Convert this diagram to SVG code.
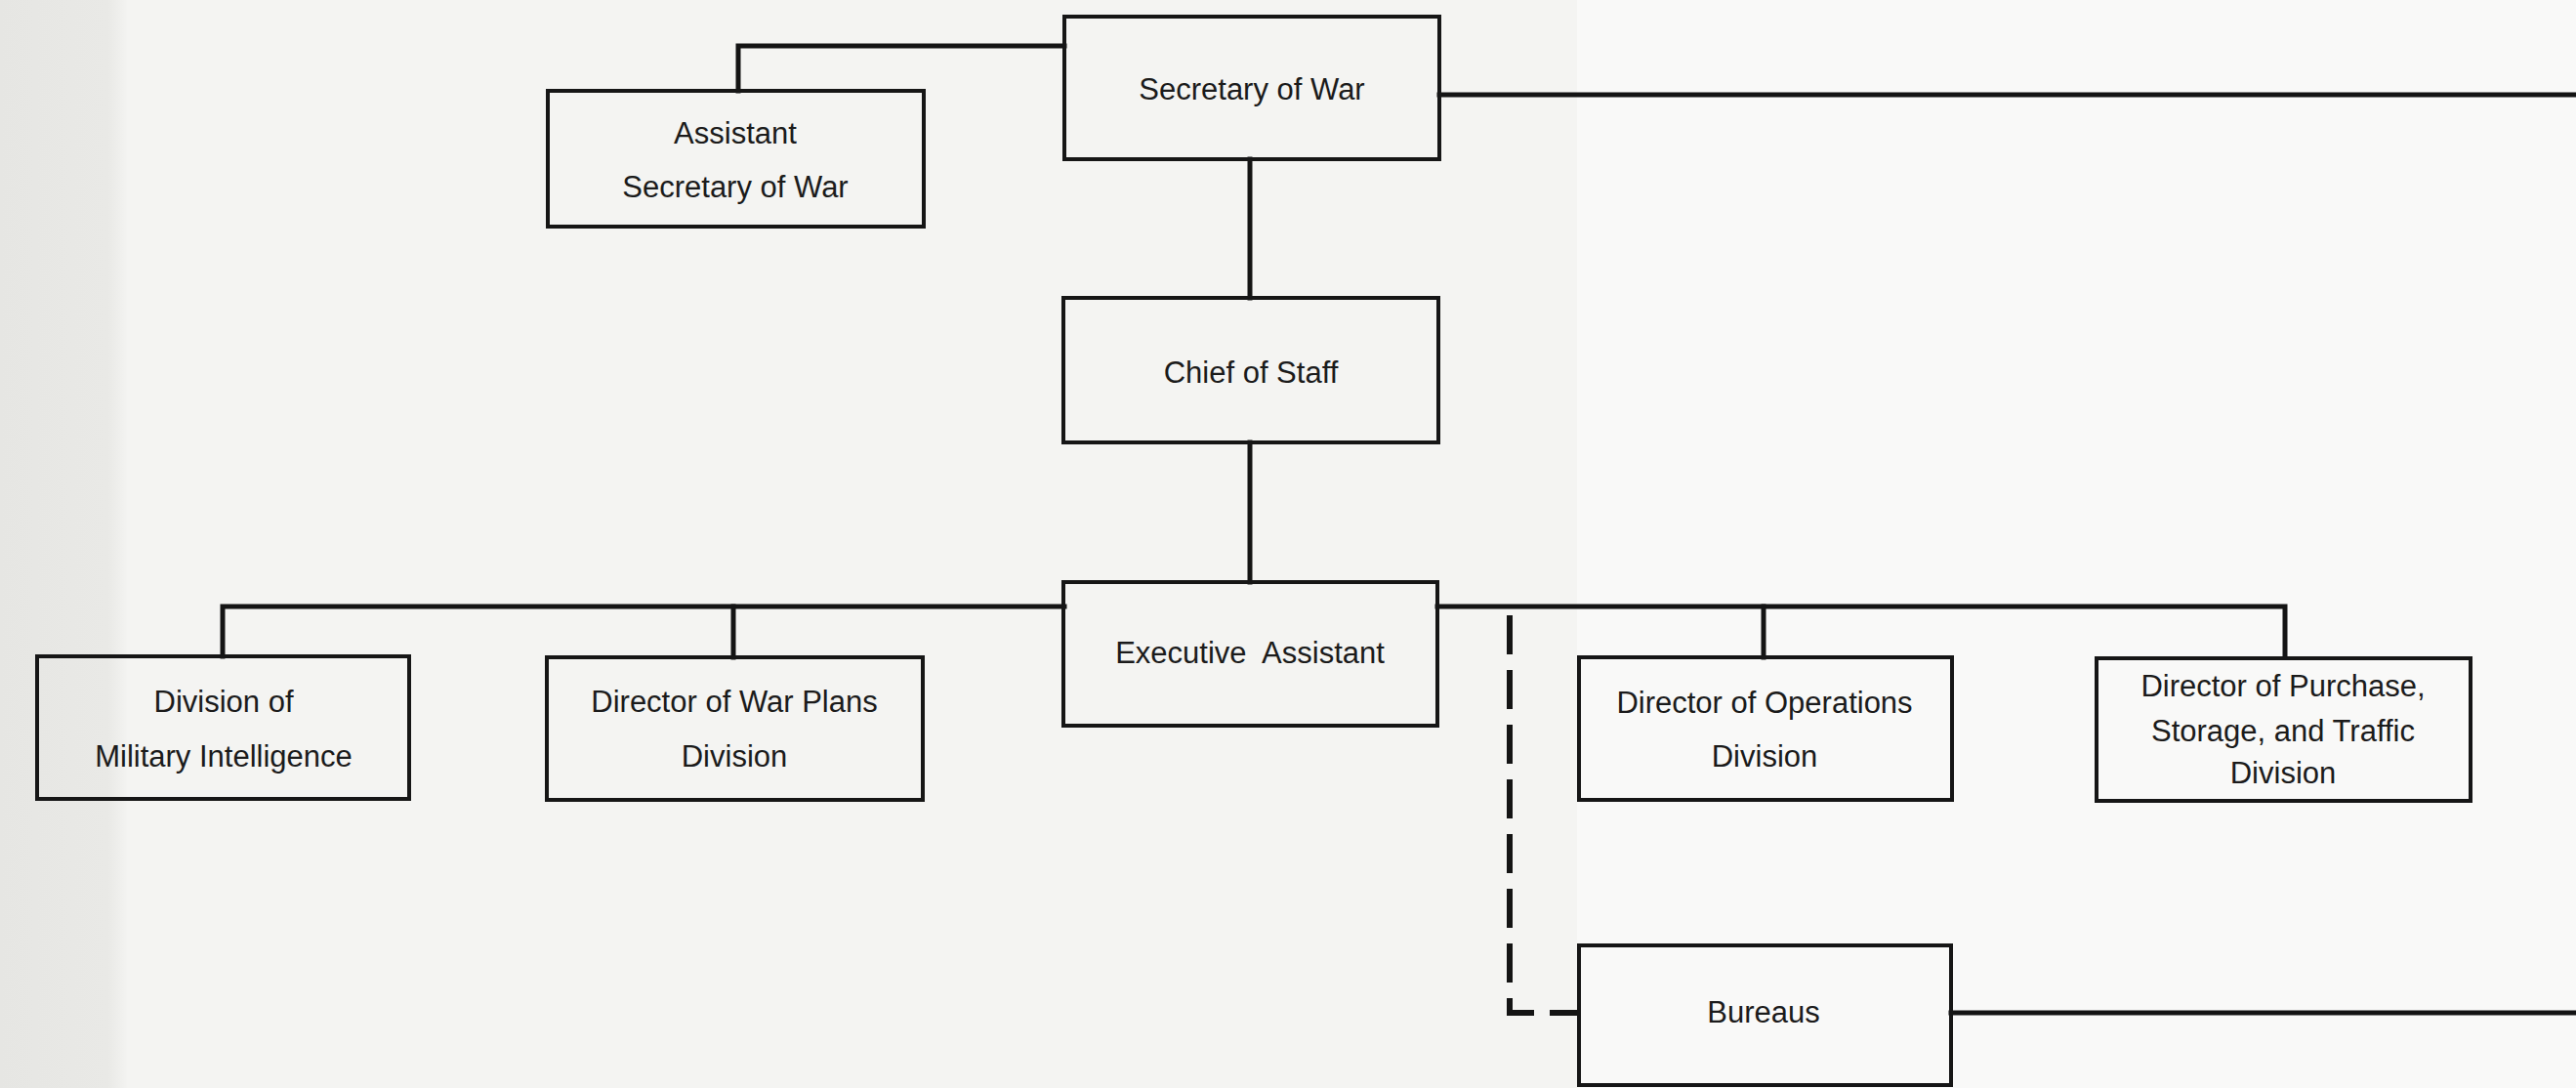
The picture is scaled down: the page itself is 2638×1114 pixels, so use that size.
<svg xmlns="http://www.w3.org/2000/svg" width="2638" height="1114" viewBox="0 0 2638 1114">
  <defs>
    <linearGradient id="leftShade" x1="0" y1="0" x2="1" y2="0">
      <stop offset="0" stop-color="#e6e6e3"/>
      <stop offset="0.85" stop-color="#e9e9e6"/>
      <stop offset="1" stop-color="#f3f3f1"/>
    </linearGradient>
    <style>
      .box { fill: none; stroke: #161616; stroke-width: 4; }
      .lbl { font-family: "Liberation Sans", Arial, Helvetica, sans-serif; font-size: 31px; fill: #1b1b1b; text-anchor: middle; }
      .line { fill: none; stroke: #141414; stroke-width: 5; stroke-linecap: square; }
      .dash { fill: none; stroke: #141414; stroke-width: 6; stroke-dasharray: 40 16; }
    </style>
  </defs>

  <!-- paper -->
  <rect x="0" y="0" width="2638" height="1114" fill="#f4f4f2"/>
  <rect x="0" y="0" width="130" height="1114" fill="url(#leftShade)"/>
  <rect x="1615" y="0" width="1023" height="1114" fill="#f9f9f8"/>

  <!-- connectors -->
  <g id="connectors">
    <path class="line" d="M756,93 V47 H1090"/>
    <path class="line" d="M1474,97 H2640"/>
    <path class="line" d="M1280,163 V305"/>
    <path class="line" d="M1280,453 V596"/>
    <path class="line" d="M1090,621 H228 V672"/>
    <path class="line" d="M751,621 V673"/>
    <path class="line" d="M1472,621 H2340 V673"/>
    <path class="line" d="M1806,621 V673"/>
    <path class="dash" d="M1546,630 V1037 H1617"/>
    <path class="line" d="M1998,1037 H2640"/>
  </g>

  <g id="secretary-of-war">
    <rect class="box" x="1090" y="17" width="384" height="146"/>
    <text class="lbl" x="1282" y="102">Secretary of War</text>
  </g>

  <g id="assistant-secretary-of-war">
    <rect class="box" x="561" y="93" width="385" height="139"/>
    <text class="lbl" x="753" y="147">Assistant</text>
    <text class="lbl" x="753" y="202">Secretary of War</text>
  </g>

  <g id="chief-of-staff">
    <rect class="box" x="1089" y="305" width="384" height="148"/>
    <text class="lbl" x="1281" y="392">Chief of Staff</text>
  </g>

  <g id="executive-assistant">
    <rect class="box" x="1089" y="596" width="383" height="147"/>
    <text class="lbl" x="1280" y="679" xml:space="preserve">Executive  Assistant</text>
  </g>

  <g id="military-intelligence">
    <rect class="box" x="38" y="672" width="381" height="146"/>
    <text class="lbl" x="229" y="729">Division of</text>
    <text class="lbl" x="229" y="785">Military Intelligence</text>
  </g>

  <g id="war-plans">
    <rect class="box" x="560" y="673" width="385" height="146"/>
    <text class="lbl" x="752" y="729">Director of War Plans</text>
    <text class="lbl" x="752" y="785">Division</text>
  </g>

  <g id="operations">
    <rect class="box" x="1617" y="673" width="382" height="146"/>
    <text class="lbl" x="1807" y="730">Director of Operations</text>
    <text class="lbl" x="1807" y="785">Division</text>
  </g>

  <g id="purchase-storage-traffic">
    <rect class="box" x="2147" y="674" width="383" height="146"/>
    <text class="lbl" x="2338" y="713">Director of Purchase,</text>
    <text class="lbl" x="2338" y="759">Storage, and Traffic</text>
    <text class="lbl" x="2338" y="802">Division</text>
  </g>

  <g id="bureaus">
    <rect class="box" x="1617" y="968" width="381" height="143"/>
    <text class="lbl" x="1806" y="1047">Bureaus</text>
  </g>
</svg>
